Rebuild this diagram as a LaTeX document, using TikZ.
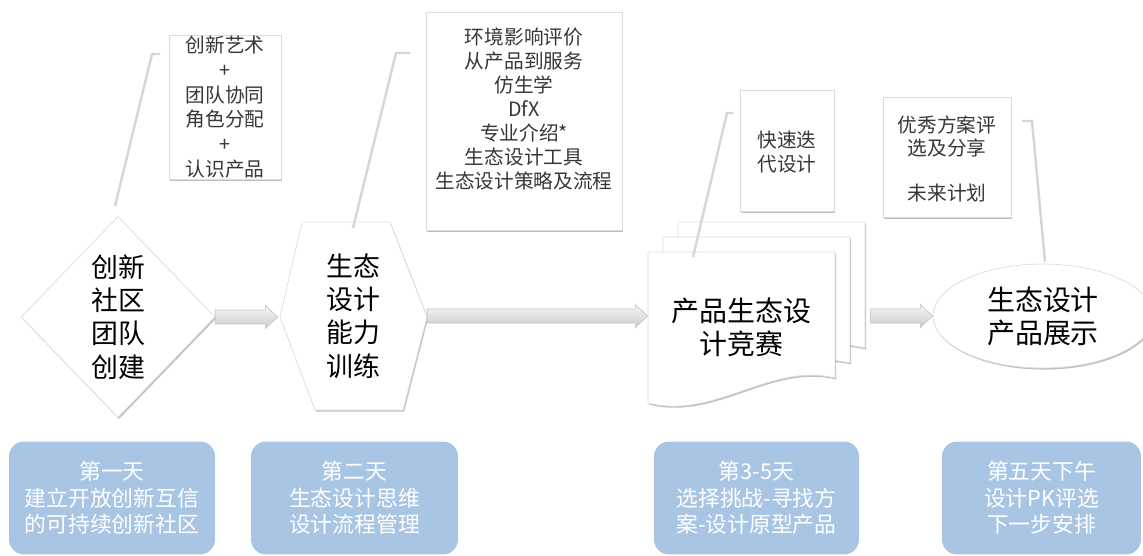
\documentclass[tikz,border=0pt]{standalone}
\usepackage{fontspec}
\setmainfont{Noto Sans CJK SC}
\usepackage{tikz}
\usetikzlibrary{shapes.geometric}
\usetikzlibrary{shadows}
\usetikzlibrary{calc}
\definecolor{dayblue}{RGB}{168,197,228}
\definecolor{notegray}{RGB}{55,55,55}
\definecolor{leadgray}{RGB}{214,214,214}
\definecolor{edgegray}{RGB}{220,220,220}

\tikzset{
  softshadow/.style={drop shadow={shadow xshift=0.6pt,shadow yshift=-0.9pt,opacity=0.25,fill=black}},
  stagetext/.style={inner sep=0pt,align=center,font=\fontsize{15.3}{19}\selectfont},
  stage/.style={stagetext,draw=edgegray,fill=white,softshadow},
  notebox/.style={draw=edgegray,fill=white,softshadow,inner sep=0pt},
  notetxt/.style={align=center,text=notegray,font=\fontsize{11.2}{13.6}\selectfont},
  daybox/.style={fill=dayblue,rounded corners=0.3cm,inner sep=0pt,align=center,text=white,font=\fontsize{12.4}{15}\selectfont},
  leaderline/.style={draw=leadgray,line width=1.4pt},
  flowarrow/.style={draw=gray!45,top color=gray!6,bottom color=gray!40,line width=0.4pt}
}

\newcommand{\flowarrow}[2]{%
  \path[flowarrow] let \p1=(#1), \p2=(#2) in
    (\x1,\y1+4pt) -- (\x2-7pt,\y1+4pt) -- (\x2-7pt,\y1+6.5pt) -- (\x2,\y1)
    -- (\x2-7pt,\y1-6.5pt) -- (\x2-7pt,\y1-4pt) -- (\x1,\y1-4pt) -- cycle;}

\begin{document}
\begin{tikzpicture}[x=0.02cm,y=-0.02cm]
    \useasboundingbox (0,0) rectangle (1143,555);

    % draw stages
    \node[stage,diamond,minimum width=3.88cm,minimum height=4.02cm] (team) at (118,317) {创新\\社区\\团队\\创建};

    \draw[notebox] (280,317) -- (302,222) -- (390,222) -- (427,317) -- (403,410) -- (315,410) -- cycle;
    \node[stagetext,minimum width=2.94cm,minimum height=3.76cm] (train) at (353.5,316) {生态\\设计\\能力\\训练};

    \draw[notebox] (678,222) -- (865,222) -- (865,348) .. controls (800,332) and (745,390) .. (678,373) -- cycle;
    \draw[notebox] (663,237) -- (850,237) -- (850,363) .. controls (785,347) and (730,405) .. (663,388) -- cycle;
    \draw[notebox] (648,252) -- (835,252) -- (835,378) .. controls (770,362) and (715,420) .. (648,403) -- cycle;
    \node[stagetext,font=\fontsize{15.9}{18.7}\selectfont,minimum width=3.74cm,minimum height=3.02cm] (contest) at (741.5,327.5) {产品生态设\\计竞赛};

    \node[stage,ellipse,minimum width=4.4cm,minimum height=2.08cm,font=\fontsize{15.9}{18.7}\selectfont] (show) at (1043,316) {生态设计\\产品展示};

    % draw arrows
    \flowarrow{team.east}{$(train.west)+(-2,0)$}
    \flowarrow{train.east}{train.east -| contest.west}
    \flowarrow{$(show.west -| contest.east)+(35,0)$}{show.west}

    % draw notes
    \node[notebox,minimum width=2.24cm,minimum height=2.88cm] (artnote) at (225,107) {};
    \node[notetxt,font=\fontsize{11.2}{14.1}\selectfont] at (artnote) {创新艺术\\+\\团队协同\\角色分配\\+\\认识产品};

    \node[notebox,minimum width=3.92cm,minimum height=4.36cm] (toolnote) at (524,121) {};
    \node[notetxt] at (524,109) {环境影响评价\\从产品到服务\\仿生学\\DfX\\专业介绍*\\生态设计工具\\生态设计策略及流程};

    \node[notebox,minimum width=1.88cm,minimum height=2.42cm] (iternote) at (787,150.5) {};
    \node[notetxt] at ($(iternote)+(0,1.5)$) {快速迭\\代设计};

    \node[notebox,minimum width=2.56cm,minimum height=2.4cm] (shownote) at (947,157) {};
    \node[notetxt,font=\fontsize{11.2}{13}\selectfont] at ($(shownote)+(0,2)$) {优秀方案评\\选及分享\\ \\未来计划};

    % draw leader lines
    \coordinate (art1) at (160,54);
    \coordinate (art2) at (152,54);
    \coordinate (art3) at (115,206);
    \draw[leaderline] (art1) -- (art2) -- (art3);

    \coordinate (tool1) at (410,53);
    \coordinate (tool2) at (396,53);
    \coordinate (tool3) at (353,228);
    \draw[leaderline] (tool1) -- (tool2) -- (tool3);

    \coordinate (iter1) at (733,113);
    \coordinate (iter2) at (727,113);
    \coordinate (iter3) at (693,257);
    \draw[leaderline] (iter1) -- (iter2) -- (iter3);

    \coordinate (show1) at (1022,121);
    \coordinate (show2) at (1032,121);
    \coordinate (show3) at (1045,262);
    \draw[leaderline] (show1) -- (show2) -- (show3);

    % draw days
    \node[daybox,minimum width=4.12cm,minimum height=2.26cm] (day1) at (112,498) {第一天\\建立开放创新互信\\的可持续创新社区};
    \node[daybox,minimum width=4.14cm,minimum height=2.26cm] (day2) at (354.5,498) {第二天\\生态设计思维\\设计流程管理};
    \node[daybox,minimum width=4.1cm,minimum height=2.26cm] (day3) at (756.5,498) {第3-5天\\选择挑战-寻找方\\案-设计原型产品};
    \node[daybox,minimum width=3.98cm,minimum height=2.26cm] (day4) at (1041.5,498) {第五天下午\\设计PK评选\\下一步安排};
\end{tikzpicture}
\end{document}
